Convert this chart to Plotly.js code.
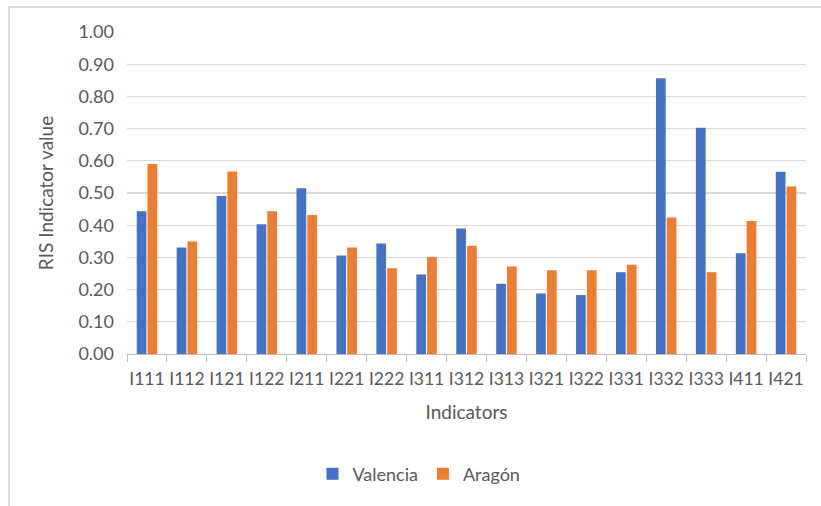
<!DOCTYPE html>
<html>
<head>
<meta charset="utf-8">
<script src="https://cdn.plot.ly/plotly-3.0.1.min.js"></script>
<style>
html,body{margin:0;padding:0;background:#fff;}
#wrap{position:relative;width:821px;height:506px;overflow:hidden;}
#frame{position:absolute;left:8px;top:6px;width:830px;height:520px;border:2px solid #dcdcdc;box-sizing:border-box;pointer-events:none;}
#chart{position:absolute;left:0;top:0;width:821px;height:506px;}
</style>
</head>
<body>
<div id="wrap">
<div id="chart"></div>
<div id="frame"></div>
</div>
<script>
const categories = ["I111","I112","I121","I122","I211","I221","I222","I311","I312","I313","I321","I322","I331","I332","I333","I411","I421"];
const valencia = [0.443,0.331,0.491,0.403,0.515,0.306,0.343,0.247,0.390,0.218,0.188,0.183,0.254,0.856,0.703,0.313,0.566];
const aragon   = [0.590,0.349,0.567,0.443,0.432,0.331,0.266,0.301,0.336,0.272,0.260,0.260,0.277,0.424,0.254,0.413,0.520];
const yTicks = [0,0.1,0.2,0.3,0.4,0.5,0.6,0.7,0.8,0.9,1.0];

const font = "Lato, 'Open Sans', sans-serif";
const grey = "#595959";

const data = [
  {type:"bar", name:"Valencia", x:categories, y:valencia, marker:{color:"#4472C4"}},
  {type:"bar", name:"Aragón", x:categories, y:aragon, marker:{color:"#ED7D31"}}
];

const layout = {
  width:821, height:506,
  margin:{l:127, r:15, t:32, b:152, autoexpand:false},
  paper_bgcolor:"#fff", plot_bgcolor:"#fff",
  font:{family:font, color:grey, size:18},
  barmode:"group", bargap:0.46, bargroupgap:0.1,
  showlegend:true,
  legend:{orientation:"h", x:0.43, xanchor:"center", y:-0.373, yanchor:"middle",
          font:{size:18, color:grey}, itemwidth:30, traceorder:"normal"},
  xaxis:{
    type:"category", tickfont:{size:17.5, color:grey}, tickangle:0,
    ticks:"outside", tickson:"boundaries", ticklen:7, tickcolor:"#bfbfbf",
    showline:true, linecolor:"#bfbfbf", linewidth:1,
    showgrid:false, fixedrange:true, ticklabelstandoff:9,
    title:{text:"Indicators", font:{size:19, color:grey}, standoff:17}
  },
  yaxis:{
    range:[0,1], tickvals:yTicks, tickformat:".2f",
    tickfont:{size:18, color:grey},
    showgrid:true, gridcolor:"#d9d9d9", gridwidth:1.2,
    zeroline:false, showline:false, ticks:"", ticklabelstandoff:12,
    title:{text:"RIS Indicator value", font:{size:19, color:grey}, standoff:19}
  }
};

Plotly.newPlot("chart", data, layout, {displayModeBar:false, staticPlot:true});
</script>
</body>
</html>
